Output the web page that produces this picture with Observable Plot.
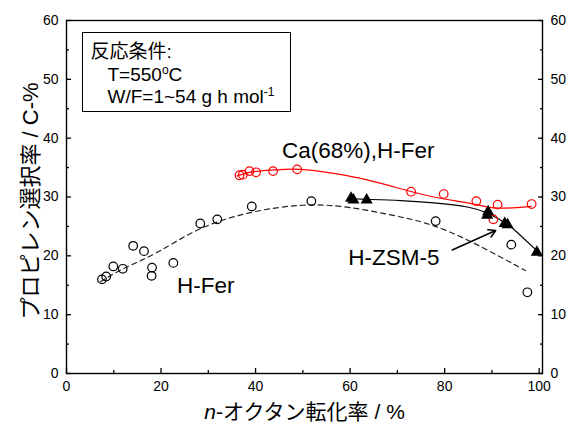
<!DOCTYPE html>
<html><head><meta charset="utf-8">
<script src="https://cdn.jsdelivr.net/npm/d3@7"></script>
<script src="https://cdn.jsdelivr.net/npm/@observablehq/plot@0.6"></script>
<style>body{margin:0;background:#fff}</style>
</head><body><div id="chart"></div>
<script>
// H-Fer (open black circles)
const hFerX = [7.5, 8.4, 9.9, 11.9, 14.1, 16.4, 18.1, 18.0, 22.6, 28.3, 31.9, 39.2, 51.8, 78.1, 94.1, 97.5];
const hFerY = [16.0, 16.5, 18.2, 17.8, 21.7, 20.8, 18.0, 16.6, 18.8, 25.5, 26.2, 28.4, 29.3, 25.9, 21.9, 13.8];
// Ca(68%),H-Fer (open red circles)
const caX = [36.6, 37.3, 38.7, 40.1, 43.7, 48.8, 72.9, 79.8, 86.7, 91.2, 98.4, 90.3];
const caY = [33.7, 33.8, 34.4, 34.2, 34.4, 34.7, 30.9, 30.5, 29.3, 28.7, 28.8, 26.2];
// H-ZSM-5 (filled triangles)
const zsmX = [60.2, 60.7, 63.5, 89.2, 89.0, 92.7, 93.3, 99.5];
const zsmY = [29.8, 29.5, 29.5, 27.5, 26.9, 25.5, 25.3, 20.6];
// fitted curves
const hFerFitX = [7.2, 12, 19.2, 28.3, 39.2, 50, 60, 70.7, 77.7, 84.8, 91.8, 97.1];
const hFerFitY = [15.6, 17.8, 20.6, 24.6, 27.4, 28.6, 28.2, 26.6, 25.1, 22.7, 19.8, 17.5];
const caFitX = [36.1, 39.6, 43.9, 49.5, 56.5, 63.6, 70.7, 77.7, 84.8, 89.0, 91.8, 95.3, 98.3];
const caFitY = [33.6, 34.3, 34.6, 34.7, 34.0, 32.9, 31.4, 30.0, 29.0, 28.3, 28.1, 28.2, 28.4];
const zsmFitX = [60.2, 63.6, 70.7, 77.7, 84.8, 89.2, 93.2, 96.0, 99.6];
const zsmFitY = [29.7, 29.6, 29.4, 29.0, 28.3, 27.2, 25.4, 23.5, 20.8];
// ticks
const xMajor = [0, 20, 40, 60, 80, 100];
const xMinor = [10, 30, 50, 70, 90];
const yMajor = [0, 10, 20, 30, 40, 50, 60];
const yMinor = [5, 15, 25, 35, 45, 55];
// texts
const xTitle = "n-オクタン転化率 / %";
const yTitle = "プロピレン選択率 / C-%";
const boxLines = ["反応条件:", "T=550oC", "W/F=1~54 g h mol-1"];
const seriesLabels = ["Ca(68%),H-Fer", "H-ZSM-5", "H-Fer"];
const labelX = [45.6, 59.6, 23.4];
const labelY = [36.7, 18.4, 13.6];
const arrowFrom = [81.6, 21.0];
const arrowTo = [90.8, 24.3];

const zip = (xs, ys) => xs.map((x, i) => ({x, y: ys[i]}));
const FONT = '"Liberation Sans", Arial, "Noto Sans CJK JP", sans-serif';

const chart = Plot.plot({
  width: 567, height: 423,
  marginLeft: 66, marginRight: 25, marginTop: 20, marginBottom: 50,
  style: {fontFamily: FONT, background: "#fff", color: "#000"},
  x: {domain: [0, 100.7]},
  y: {domain: [0, 60]},
  marks: [
    // tick labels
    Plot.axisX(xMajor, {anchor: "bottom", tickSize: 0, tickPadding: 8, fontSize: 14, label: null}),
    Plot.axisY(yMajor, {anchor: "left", tickSize: 0, tickPadding: 8, fontSize: 14, label: null}),
    Plot.axisY(yMajor, {anchor: "right", tickSize: 0, tickPadding: 8, fontSize: 14, label: null}),
    // inward ticks
    Plot.axisX(xMajor, {anchor: "bottom", tickSize: -5, fill: "none", label: null, strokeWidth: 1.3}),
    Plot.axisX(xMinor, {anchor: "bottom", tickSize: -3, fill: "none", label: null, strokeWidth: 1.3}),
    Plot.axisY(yMajor, {anchor: "left", tickSize: -5, fill: "none", label: null, strokeWidth: 1.3}),
    Plot.axisY(yMinor, {anchor: "left", tickSize: -3, fill: "none", label: null, strokeWidth: 1.3}),
    Plot.axisY(yMajor, {anchor: "right", tickSize: -5, fill: "none", label: null, strokeWidth: 1.3}),
    Plot.axisY(yMinor, {anchor: "right", tickSize: -3, fill: "none", label: null, strokeWidth: 1.3}),
    Plot.frame({stroke: "#000", strokeWidth: 1.4}),
    // curves
    Plot.line(zip(hFerFitX, hFerFitY), {x: "x", y: "y", curve: "natural", stroke: "#222", strokeWidth: 1.2, strokeDasharray: "5,4"}),
    Plot.line(zip(caFitX, caFitY), {x: "x", y: "y", curve: "natural", stroke: "#ff0000", strokeWidth: 1.2}),
    Plot.line(zip(zsmFitX, zsmFitY), {x: "x", y: "y", curve: "natural", stroke: "#000", strokeWidth: 1.2}),
    // points
    Plot.dot(zip(hFerX, hFerY), {x: "x", y: "y", r: 4.3, stroke: "#000", strokeWidth: 1.2, fill: "none"}),
    Plot.dot(zip(caX, caY), {x: "x", y: "y", r: 4.3, stroke: "#ff0000", strokeWidth: 1.2, fill: "none"}),
    Plot.dot(zip(zsmX, zsmY), {x: "x", y: "y", r: 4.5, symbol: "triangle", fill: "#000", stroke: "none"}),
    // arrow
    Plot.arrow([{x1: arrowFrom[0], y1: arrowFrom[1], x2: arrowTo[0], y2: arrowTo[1]}], {x1: "x1", y1: "y1", x2: "x2", y2: "y2", stroke: "#000", strokeWidth: 1.5, headLength: 8}),
    // series labels
    Plot.text(seriesLabels.map((t, i) => ({t, x: labelX[i], y: labelY[i]})), {x: "x", y: "y", text: "t", textAnchor: "start", lineAnchor: "bottom", fontSize: 22.5, fill: "#000", fontFamily: FONT}),
    // condition box
    Plot.frame({insetLeft: 16, insetTop: 12, insetRight: 252, insetBottom: 262, stroke: "#000", strokeWidth: 1}),
    Plot.text([boxLines[0]], {frameAnchor: "top-left", dx: 24, dy: 37, textAnchor: "start", lineAnchor: "bottom", fontSize: 19, fontFamily: FONT}),
    Plot.text([boxLines[1]], {frameAnchor: "top-left", dx: 41, dy: 60, textAnchor: "start", lineAnchor: "bottom", fontSize: 19, fontFamily: FONT}),
    Plot.text([boxLines[2]], {frameAnchor: "top-left", dx: 41, dy: 82, textAnchor: "start", lineAnchor: "bottom", fontSize: 19, fontFamily: FONT}),
    // axis titles
    Plot.text([xTitle], {frameAnchor: "bottom", dy: 45, lineAnchor: "bottom", fontSize: 21, fontFamily: FONT}),
    Plot.text([yTitle], {frameAnchor: "left", dx: -36, dy: 4, rotate: -90, textAnchor: "middle", fontSize: 22, fontFamily: FONT})
  ]
});

chart.querySelectorAll("text").forEach(t => {
  const s = t.textContent;
  if (s === "T=550oC") {
    t.innerHTML = 'T=550<tspan dy="-7" font-size="12">o</tspan><tspan dy="7">C</tspan>';
  } else if (s === "W/F=1~54 g h mol-1") {
    t.innerHTML = 'W/F=1~54 g h mol<tspan dy="-7" font-size="12">-1</tspan>';
  } else if (s === xTitle) {
    t.innerHTML = '<tspan font-style="italic">n</tspan>-オクタン転化率 / %';
  }
});
document.getElementById("chart").appendChild(chart);
</script>
</body></html>
